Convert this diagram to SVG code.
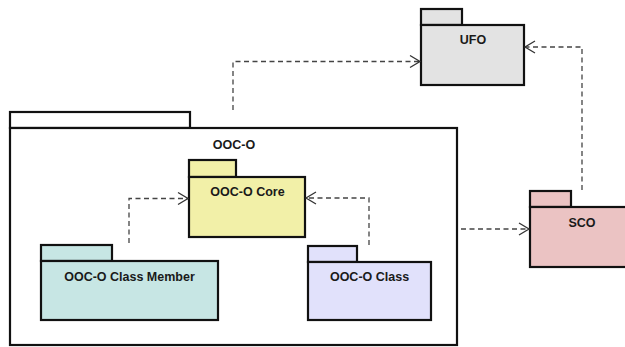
<svg xmlns="http://www.w3.org/2000/svg" width="625" height="347" viewBox="0 0 625 347">
<style>
.pkg{stroke:#111;stroke-width:2.2}
.lbl{font-family:"Liberation Sans",Arial,sans-serif;font-size:12.5px;font-weight:bold;fill:#1a1a1a;text-anchor:middle}
.dep{fill:none;stroke:#444;stroke-width:1.3;stroke-dasharray:5 3.5}
.head{fill:none;stroke:#333;stroke-width:1.3}
</style>
<rect width="625" height="347" fill="#fff"/>
<g id="OOC-O">
<rect class="pkg" x="10" y="112" width="180" height="16" fill="#fff"/>
<rect class="pkg" x="10" y="128" width="447" height="217" fill="#fff"/>
<text class="lbl" x="234" y="149">OOC-O</text>
</g>
<g id="UFO">
<rect class="pkg" x="421" y="9" width="41" height="16" fill="#e3e3e3"/>
<rect class="pkg" x="421" y="25" width="103" height="60" fill="#e3e3e3"/>
<text class="lbl" x="473" y="44">UFO</text>
</g>
<g id="OOC-O-Core">
<rect class="pkg" x="189" y="160" width="47" height="17" fill="#f2f0a8"/>
<rect class="pkg" x="189" y="177" width="116" height="60" fill="#f2f0a8"/>
<text class="lbl" x="247.5" y="196">OOC-O Core</text>
</g>
<g id="OOC-O-Class-Member">
<rect class="pkg" x="41" y="245" width="71" height="16" fill="#c7e6e4"/>
<rect class="pkg" x="41" y="261" width="177" height="59" fill="#c7e6e4"/>
<text class="lbl" x="129.5" y="280.5">OOC-O Class Member</text>
</g>
<g id="OOC-O-Class">
<rect class="pkg" x="308" y="246" width="49" height="16" fill="#e1e1fb"/>
<rect class="pkg" x="308" y="262" width="123" height="58" fill="#e1e1fb"/>
<text class="lbl" x="369.5" y="281">OOC-O Class</text>
</g>
<g id="SCO">
<rect class="pkg" x="530" y="191" width="41" height="16" fill="#ebc3c3"/>
<rect class="pkg" x="530" y="207" width="104" height="60" fill="#ebc3c3"/>
<text class="lbl" x="582" y="226.5">SCO</text>
</g>
<g id="connectors">
<path class="dep" d="M233 110 V61.5 H420"/>
<polyline class="head" points="410,55.5 420,61.5 410,67.5"/>
<path class="dep" d="M582 190 V47 H525"/>
<polyline class="head" points="535,41 525,47 535,53"/>
<path class="dep" d="M461 229 H529"/>
<polyline class="head" points="519,223 529,229 519,235"/>
<path class="dep" d="M129 243 V198.5 H188"/>
<polyline class="head" points="178,192.5 188,198.5 178,204.5"/>
<path class="dep" d="M369 245 V198 H306"/>
<polyline class="head" points="316,192 306,198 316,204"/>
</g>
</svg>
